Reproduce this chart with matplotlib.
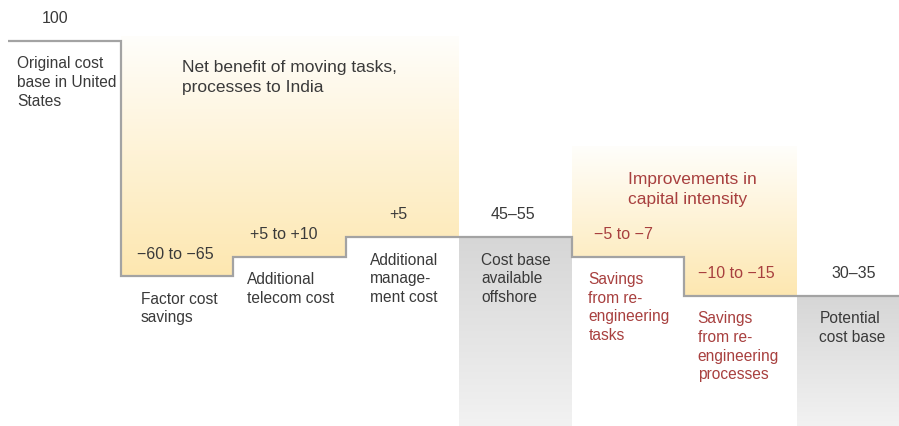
import matplotlib.pyplot as plt
import matplotlib.patches as mpatches
from matplotlib.colors import LinearSegmentedColormap
import numpy as np

plt.rcParams['font.family'] = ['Liberation Sans', 'DejaVu Sans']

# ----- data (schematic cost levels) -----
categories = [
    'Original cost\nbase in United\nStates',
    'Factor cost\nsavings',
    'Additional\ntelecom cost',
    'Additional\nmanage-\nment cost',
    'Cost base\navailable\noffshore',
    'Savings\nfrom re-\nengineering\ntasks',
    'Savings\nfrom re-\nengineering\nprocesses',
    'Potential\ncost base',
]
value_labels = ['100', '\u221260 to \u221265', '+5 to +10', '+5', '45\u201355',
                '\u22125 to \u22127', '\u221210 to \u221215', '30\u201335']
levels = [100, 40, 45, 50, 50, 45, 35, 35]
is_total = [False, False, False, False, True, False, False, True]
is_capital = [False, False, False, False, False, True, True, False]

group_titles = ['Net benefit of moving tasks,\nprocesses to India',
                'Improvements in\ncapital intensity']
group_cols = [(1, 4), (5, 7)]

# ----- style / layout -----
TXT = '#3a3a3a'
RED = '#a8403f'
LINE = '#a3a3a3'
YEL = '#fde7b0'
GRAY_TOP = '#d6d6d6'
GRAY_BOT = '#f2f2f2'

label_dx = [0.08, 0.18, 0.12, 0.21, 0.20, 0.15, 0.12, 0.20]
value_dx = [0.42, 0.145, 0.147, 0.38, 0.48, 0.20, 0.12, 0.50]
value_ha = ['center', 'left', 'left', 'left', 'center', 'left', 'left', 'center']
group_top = [101.3, 73.2]
group_title_xy = [(1.544, 95.3), (5.50, 66.8)]

YMIN, YMAX = 1.8, 110.7

fig = plt.figure(figsize=(8.99, 4.27), dpi=100, facecolor='white')
ax = fig.add_axes([0, 0, 1, 1])
ax.set_xlim(-8 / 112.7, 891 / 112.7)
ax.set_ylim(YMIN, YMAX)
ax.axis('off')

edges = np.arange(len(levels) + 1)

# yellow gradient regions (white on top -> yellow at the step)
ycmap = LinearSegmentedColormap.from_list('y', ['#fffefb', YEL])
for (c0, c1), top in zip(group_cols, group_top):
    verts = [(c0, top), (c1, top)]
    for c in range(c1 - 1, c0 - 1, -1):
        verts += [(c + 1, levels[c]), (c, levels[c])]
    poly = mpatches.Polygon(verts, closed=True, facecolor='none', edgecolor='none')
    ax.add_patch(poly)
    low = min(levels[c0:c1])
    grad = np.linspace(0, 1, 256).reshape(-1, 1)
    im = ax.imshow(grad, cmap=ycmap, aspect='auto', origin='upper',
                   extent=[c0, c1, low, top], zorder=1, interpolation='bilinear')
    im.set_clip_path(poly)

# gray gradient total columns
gcmap = LinearSegmentedColormap.from_list('g', [GRAY_TOP, GRAY_BOT])
for i, tot in enumerate(is_total):
    if tot and i > 0:
        grad = np.linspace(0, 1, 256).reshape(-1, 1)
        ax.imshow(grad, cmap=gcmap, aspect='auto', origin='upper',
                  extent=[i, i + 1, YMIN, levels[i]], zorder=1,
                  interpolation='bilinear')

# step outline
ax.stairs(levels, edges, baseline=None, color=LINE, linewidth=1.6, zorder=3)

# value labels above each level
for i, (lab, lev) in enumerate(zip(value_labels, levels)):
    col = RED if is_capital[i] else TXT
    ax.text(i + value_dx[i], lev + 5.9, lab, ha=value_ha[i], va='center',
            fontsize=11.5, color=col, zorder=4)

# category labels below each level
for i, (lab, lev) in enumerate(zip(categories, levels)):
    col = RED if is_capital[i] else TXT
    ax.text(i + label_dx[i], lev - 3.7, lab, ha='left', va='top',
            fontsize=11.2, color=col, linespacing=1.3, zorder=4)

# group titles
for k, (t, (x, y)) in enumerate(zip(group_titles, group_title_xy)):
    ax.text(x, y, t, ha='left', va='top', fontsize=12.5,
            color=TXT if k == 0 else RED, linespacing=1.38, zorder=4)

fig.savefig('out.png', dpi=100, facecolor='white')
